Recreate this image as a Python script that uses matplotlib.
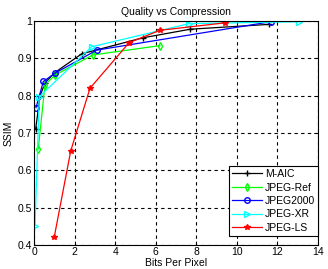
import matplotlib
matplotlib.use("Agg")
import matplotlib.pyplot as plt

plt.rcParams['font.family'] = ['Liberation Sans', 'DejaVu Sans']

maic_x = [0.08, 0.3, 0.55, 1.03, 2.35, 5.37, 7.7, 11.6]
maic_y = [0.71, 0.80, 0.835, 0.862, 0.912, 0.955, 0.978, 0.991]

ref_x = [0.21, 0.54, 1.03, 2.9, 6.2]
ref_y = [0.657, 0.829, 0.855, 0.909, 0.934]

j2k_x = [0.1, 0.46, 1.03, 3.09, 11.67]
j2k_y = [0.768, 0.838, 0.86, 0.922, 0.998]

xr_x = [0.05, 0.26, 2.84, 7.65, 13.05]
xr_y = [0.452, 0.797, 0.931, 0.993, 0.998]

ls_x = [1.0, 1.81, 2.76, 4.69, 6.2, 9.4]
ls_y = [0.422, 0.652, 0.82, 0.942, 0.975, 0.995]

labels = ['M-AIC', 'JPEG-Ref', 'JPEG2000', 'JPEG-XR', 'JPEG-LS']
xticks = [0, 2, 4, 6, 8, 10, 12, 14]
yticks = [0.4, 0.5, 0.6, 0.7, 0.8, 0.9, 1.0]
ytick_labels = ['0.4', '0.5', '0.6', '0.7', '0.8', '0.9', '1']

fig = plt.figure(figsize=(3.28, 2.69), dpi=100)
ax = fig.add_axes([34/328, 24/269, 284/328, 224/269])

lw = 0.9
ms = 4
ax.plot(maic_x, maic_y, color='black', marker='+', lw=lw, ms=ms + 1, label=labels[0])
ax.plot(ref_x, ref_y, color=(0, 1, 0), marker='d', mfc='none', lw=lw, ms=ms, label=labels[1])
ax.plot(j2k_x, j2k_y, color='blue', marker='o', mfc='none', lw=lw, ms=ms, label=labels[2])
ax.plot(xr_x, xr_y, color='cyan', marker='>', mfc='none', lw=lw, ms=ms, label=labels[3])
ax.plot(ls_x, ls_y, color='red', marker='*', lw=lw, ms=ms, label=labels[4])

ax.set_xlim(0, 14)
ax.set_ylim(0.4, 1.0)
ax.set_xticks(xticks)
ax.set_xticklabels([str(t) for t in xticks])
ax.set_yticks(yticks)
ax.set_yticklabels(ytick_labels)
ax.tick_params(labelsize=7.5, direction='in', length=3, width=0.6, top=True, right=True, pad=1.5)
ax.grid(True, color='black', linestyle=(0, (3, 3)), linewidth=0.8)
for s in ax.spines.values():
    s.set_linewidth(0.8)

ax.set_title('Quality vs Compression', fontsize=7.5, pad=4)
ax.set_xlabel('Bits Per Pixel', fontsize=7.5, labelpad=0.5)
ax.set_ylabel('SSIM', fontsize=7.5, labelpad=3)

leg = ax.legend(loc='lower right', bbox_to_anchor=(1.0, 9/224), fontsize=7.5,
                handlelength=2.9, borderaxespad=0.0,
                fancybox=False, edgecolor='black', framealpha=1, borderpad=0.3,
                labelspacing=0.33, handletextpad=0.25)
leg.get_frame().set_linewidth(0.8)

fig.savefig('out.png', dpi=100)
